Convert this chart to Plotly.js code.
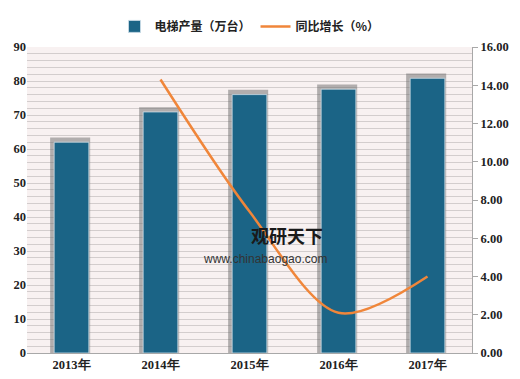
<!DOCTYPE html>
<html><head><meta charset="utf-8">
<script src="https://cdn.plot.ly/plotly-3.0.1.min.js"></script>
<style>html,body{margin:0;padding:0;background:#fff}#c{width:520px;height:379px}</style>
</head><body><div id="c"></div>
<script>
const years = ['2013年','2014年','2015年','2016年','2017年'];
const output = [62.0, 70.9, 76.0, 77.6, 80.8];
const growthYears = ['2014年','2015年','2016年','2017年'];
const growth = [14.3, 7.4, 2.1, 4.0];
const shadowLift = 1.4;

const tickFont = {family:'Liberation Serif, DejaVu Serif, serif', size:12.5, color:'#222', weight:'bold'};
const cjk = 'Noto Sans CJK SC, sans-serif';

const traces = [
  {type:'bar', x:years, y:output.map(v=>v+shadowLift), width:0.45, offset:-0.24,
   marker:{color:'rgba(105,105,105,0.5)', line:{width:0}}, showlegend:false, hoverinfo:'skip'},
  {type:'bar', x:years, y:output, name:'电梯产量（万台）', width:0.39,
   marker:{color:'#1b6486', line:{color:'#cfe0ea', width:0.8}}},
  {type:'scatter', mode:'lines', x:growthYears, y:growth, yaxis:'y2', name:'同比增长（%）',
   line:{color:'#f0863a', width:2.5, shape:'spline', smoothing:0.9}}
];

const layout = {
  width:520, height:379,
  margin:{l:27, r:48, t:39, b:26},
  paper_bgcolor:'#ffffff', plot_bgcolor:'#f8f1f1',
  barmode:'overlay', bargap:0.6,
  showlegend:true,
  legend:{orientation:'h', x:0.5, xanchor:'center', y:1.02, yanchor:'bottom',
          font:{family:cjk, size:12, color:'#222', weight:'bold'}, traceorder:'normal'},
  xaxis:{type:'category', showgrid:false, showline:true, linecolor:'#a8a8a8', linewidth:1,
         ticks:'', tickfont:tickFont, fixedrange:true},
  yaxis:{range:[0,90], dtick:10, showgrid:true, gridcolor:'#d3cdcd', gridwidth:1,
         minor:{dtick:2, showgrid:true, gridcolor:'#d3cdcd', gridwidth:1},
         showline:false, zeroline:false, ticks:'', tickfont:tickFont, fixedrange:true},
  yaxis2:{range:[0,16], dtick:2, overlaying:'y', side:'right', showgrid:false, zeroline:false,
          showline:true, linecolor:'#a8a8a8', ticks:'outside', ticklen:5, tickcolor:'#a8a8a8',
          tickformat:'.2f', tickfont:tickFont, fixedrange:true},
  annotations:[
    {xref:'paper', yref:'paper', x:0.585, y:0.385, xanchor:'center', yanchor:'middle', showarrow:false,
     text:'观研天下', font:{family:cjk, size:18, color:'#1a1a1a', weight:'bold'}},
    {xref:'paper', yref:'paper', x:0.535, y:0.308, xanchor:'center', yanchor:'middle', showarrow:false,
     text:'www.chinabaogao.com', font:{family:'Liberation Sans, Arial, sans-serif', size:12, color:'#333'}}
  ]
};
Plotly.newPlot('c', traces, layout, {displayModeBar:false, staticPlot:true});
</script></body></html>
